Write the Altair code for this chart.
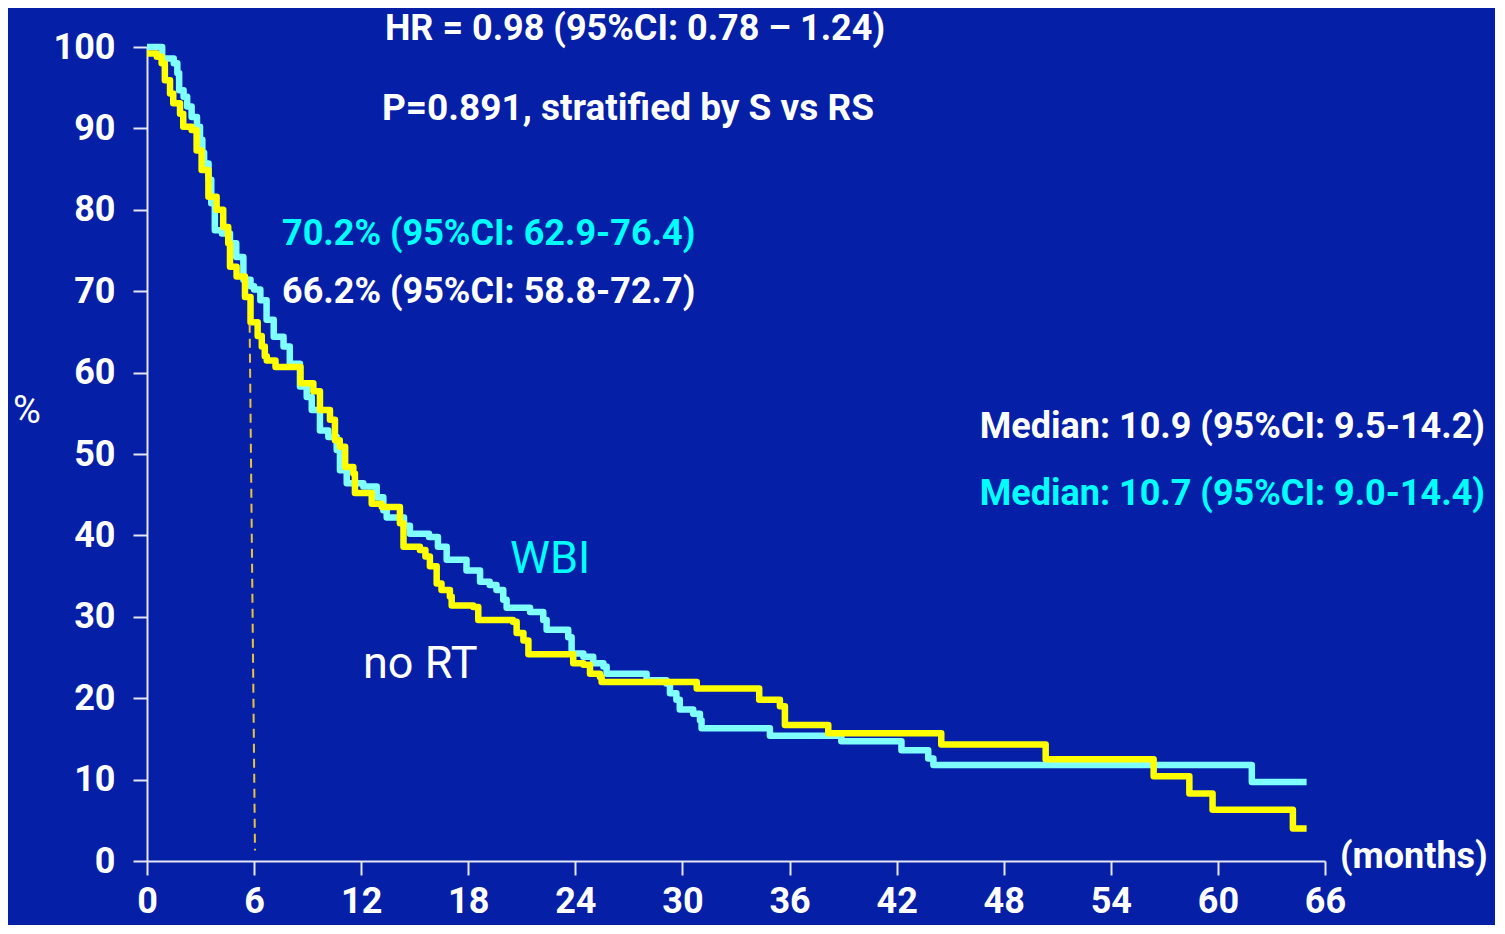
import altair as alt
import pandas as pd

# ---- data ----
wbi_t = [0, 0.85, 1.5, 1.7, 1.8, 2.05, 2.25, 2.5, 2.8, 2.97, 3.1, 3.2, 3.45, 3.6, 3.8, 4.2, 4.65, 5.0, 5.4, 5.8,
         6.0, 6.35, 6.7, 7.1, 7.65, 8.0, 8.57, 8.95, 9.23, 9.69, 10.16, 10.63, 10.81, 11.19, 12.12, 12.87, 13.24,
         13.43, 14.4, 14.73, 15.8, 16.3, 16.79, 17.9, 18.66, 19.2, 19.58, 19.96, 20.15, 21.46, 22.2, 22.39, 23.6,
         23.79, 24.45, 25.0, 25.57, 25.75, 27.99, 29.1, 29.3, 29.66, 29.85, 30.6, 30.98, 31.07, 34.9, 38.9, 42.27,
         43.77, 44.06, 61.9, 64.97]
wbi_s = [100, 98.6, 98.0, 96.8, 94.7, 93.9, 92.7, 91.4, 90.2, 88.6, 87.0, 85.7, 83.7, 80.8, 77.5, 77.1, 75.9, 74.2,
         71.4, 70.6, 70.2, 68.9, 66.5, 64.4, 63.2, 61.1, 58.3, 57.0, 55.4, 52.9, 52.1, 50.5, 48.0, 46.4, 46.0, 44.7,
         43.1, 42.2, 41.2, 40.2, 39.8, 38.6, 37.0, 35.7, 34.3, 33.9, 33.3, 32.1, 31.1, 30.6, 29.6, 28.4, 27.5, 25.5,
         25.1, 24.3, 23.9, 23.0, 22.2, 21.8, 20.6, 19.8, 18.6, 18.1, 17.3, 16.3, 15.4, 14.7, 13.6, 12.6, 11.8, 9.7,
         9.7]

nort_t = [0, 0.55, 0.82, 1.0, 1.29, 1.47, 1.85, 2.03, 2.5, 2.78, 3.06, 3.44, 3.9, 4.27, 4.55, 4.65, 5.02, 5.49,
          5.8, 6.2, 6.43, 6.6, 6.71, 7.2, 8.6, 9.32, 9.69, 10.25, 10.53, 10.8, 11.1, 11.56, 11.65, 12.59, 13.15,
          14.17, 14.37, 15.29, 15.6, 15.85, 16.23, 16.5, 16.97, 17.07, 18.28, 18.56, 20.5, 20.71, 21.09, 21.37,
          23.88, 24.45, 24.82, 25.38, 25.47, 30.8, 34.3, 35.46, 35.74, 38.17, 44.5, 50.35, 56.4, 58.4, 59.7, 64.2,
          64.97]
nort_s = [99.2, 98.8, 98.0, 95.9, 94.3, 93.1, 91.8, 90.2, 89.8, 87.3, 84.9, 81.6, 80.0, 77.9, 75.9, 73.0, 71.8,
          69.3, 66.2, 64.5, 63.2, 62.0, 61.5, 60.7, 58.7, 57.7, 55.4, 54.2, 51.7, 50.9, 48.4, 47.6, 45.2, 43.9, 43.5,
          41.5, 38.6, 38.2, 37.4, 36.2, 34.1, 33.3, 32.5, 31.4, 31.2, 29.6, 29.4, 28.0, 27.1, 25.4, 24.3, 24.1, 23.0,
          22.6, 22.0, 21.2, 19.8, 19.0, 16.7, 15.7, 14.3, 12.5, 10.4, 8.3, 6.3, 4.0, 4.0]

x_ticks = [0, 6, 12, 18, 24, 30, 36, 42, 48, 54, 60, 66]
y_ticks = [0, 10, 20, 30, 40, 50, 60, 70, 80, 90, 100]

# landmark at 6 months (dashed guide)
guide_t = [5.75]
guide_t2 = [6.05]
guide_top = [66.0]
guide_bottom = [1.3]

texts = ["HR = 0.98 (95%CI: 0.78 \u2013 1.24)",
         "P=0.891, stratified by S vs RS",
         "70.2% (95%CI: 62.9-76.4)",
         "66.2% (95%CI: 58.8-72.7)",
         "Median: 10.9 (95%CI: 9.5-14.2)",
         "Median: 10.7 (95%CI: 9.0-14.4)",
         "WBI",
         "no RT",
         "%",
         "(months)"]

BG = "#0520A7"
CYAN_LINE = "#7FFFFF"
CYAN_TEXT = "#00FFFF"
YELLOW = "#FFFF00"
WHITE = "#FFFFFF"
AXIS = "#E6E6F2"
FONT = "Roboto, Liberation Sans, Arial, sans-serif"

x_scale = alt.Scale(domain=[0, 66], nice=False, zero=False)
y_scale = alt.Scale(domain=[0, 100], nice=False, zero=False)

wbi_df = pd.DataFrame({"t": wbi_t, "s": wbi_s})
nort_df = pd.DataFrame({"t": nort_t, "s": nort_s})

x_enc = alt.X("t:Q", scale=x_scale, title=None,
              axis=alt.Axis(values=x_ticks, format="d", labelFlush=False, labelOverlap=False))
y_enc = alt.Y("s:Q", scale=y_scale, title=None,
              axis=alt.Axis(values=y_ticks, format="d", labelOverlap=False))

wbi_line = alt.Chart(wbi_df).mark_line(
    interpolate="step-after", color=CYAN_LINE, strokeWidth=6.5, strokeJoin="round"
).encode(x=x_enc, y=y_enc)

nort_line = alt.Chart(nort_df).mark_line(
    interpolate="step-after", color=YELLOW, strokeWidth=6.5, strokeJoin="round"
).encode(x="t:Q", y="s:Q")

guide = alt.Chart(pd.DataFrame({"t": guide_t, "t2": guide_t2, "a": guide_top, "b": guide_bottom})).mark_rule(
    color="#E9C33C", strokeWidth=2, strokeDash=[9, 6]
).encode(x="t:Q", x2="t2:Q", y="a:Q", y2="b:Q")


def label(i, px, py, color, size, weight="bold", align="left", baseline="alphabetic"):
    return alt.Chart(pd.DataFrame({"label": [texts[i]]})).mark_text(
        align=align, baseline=baseline, font=FONT, fontSize=size, fontWeight=weight, color=color
    ).encode(text="label:N", x=alt.value(px), y=alt.value(py))


ann = [
    label(0, 488, -7, WHITE, 36, align="center"),
    label(1, 481, 73, WHITE, 37, align="center"),
    label(2, 135, 198, CYAN_TEXT, 36),
    label(3, 135, 256, WHITE, 36),
    label(4, 1338, 391, WHITE, 36, align="right"),
    label(5, 1338, 458, CYAN_TEXT, 36, align="right"),
    label(6, 363, 526, CYAN_TEXT, 45, weight="normal"),
    label(7, 216, 631, WHITE, 45, weight="normal"),
    label(8, -120, 365, WHITE, 38, weight="normal", align="center", baseline="middle"),
    label(9, 1193, 821, WHITE, 36),
]

chart = alt.layer(wbi_line, nort_line, guide, *ann).properties(
    width=1178, height=814,
    autosize=alt.AutoSizeParams(type="none"),
    padding={"left": 139, "top": 39, "right": 170, "bottom": 64},
    background=BG,
).configure_view(stroke=None).configure_axis(
    grid=False,
    domainColor=AXIS, domainWidth=2,
    tickColor=AXIS, tickWidth=2, tickSize=14,
    labelColor=WHITE, labelFont=FONT, labelFontSize=36, labelFontWeight="bold",
).configure_axisX(labelPadding=9).configure_axisY(labelPadding=18)

chart.save("out.html", embed_options={"renderer": "svg", "actions": False})
